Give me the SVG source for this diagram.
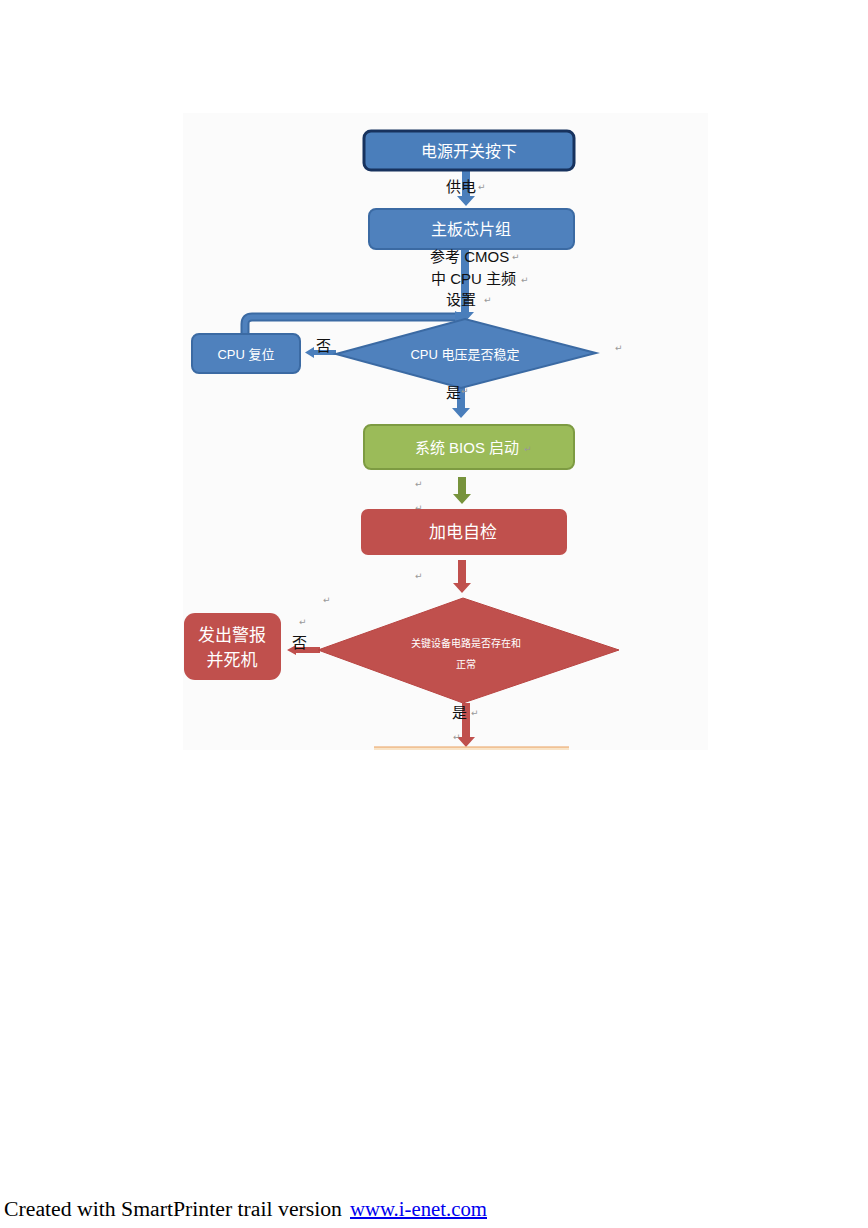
<svg xmlns="http://www.w3.org/2000/svg" width="868" height="1228" viewBox="0 0 868 1228">
<style>
.t{font-family:"Liberation Sans","Noto Sans CJK SC",sans-serif;}
.w{fill:#ffffff;text-anchor:middle;}
.k{fill:#111111;font-size:15px;}
.p{fill:#999999;font-size:9px;font-family:"DejaVu Sans",sans-serif;}
.blue{fill:#4f81bd;stroke:#3b6aa3;stroke-width:2;}
.arB{fill:#4a7ebb;}
.arG{fill:#77933c;}
.arR{fill:#c0504d;}
</style>
<rect width="868" height="1228" fill="#ffffff"/>
<rect x="183" y="113" width="525" height="637" fill="#fbfbfb"/>

<g id="connectors">
  <polygon class="arB" points="462,171 470,171 470,196 475,196 466,206 457,196 462,196"/>
  <polygon class="arB" points="461,249 469,249 469,312 474,312 465,322 456,312 461,312"/>
  <path d="M245,334 V324 Q245,317 252,317 H455" fill="none" stroke="#3b6aa3" stroke-width="9"/>
  <path d="M245,334 V324 Q245,317 252,317 H455" fill="none" stroke="#4f81bd" stroke-width="5"/>
  <polygon class="arB" points="455,311 466,317 455,323"/>
  <polygon class="arB" points="336,350 314,350 314,347 305,352.5 314,358 314,355 336,355"/>
  <polygon class="arB" points="457,388 465,388 465,408 470,408 461,418 452,408 457,408"/>
  <polygon class="arG" points="458,477 466,477 466,494 471,494 462,504 453,494 458,494"/>
  <polygon class="arR" points="458,560 466,560 466,583 471,583 462,593 453,583 458,583"/>
  <polygon class="arR" points="320,647 296,647 296,645 287,650 296,655 296,653 320,653"/>
  <polygon class="arR" points="462,703 470,703 470,737 475,737 466,747 457,737 462,737"/>
</g>

<g id="n1">
  <rect x="364" y="131" width="210" height="39" rx="7" fill="#4a7ebb" stroke="#17325e" stroke-width="3"/>
  <text class="t w" x="469" y="157" font-size="16">电源开关按下</text>
</g>
<g id="lbl-power">
  <text class="t k" x="446" y="192">供电</text>
  <text class="p" x="478" y="190">↵</text>
</g>
<g id="n2">
  <rect x="369" y="209" width="205" height="40" rx="7" class="blue"/>
  <text class="t w" x="471" y="235" font-size="16">主板芯片组</text>
</g>
<g id="lbl-cmos">
  <text class="t k" x="430" y="262">参考 CMOS</text>
  <text class="p" x="512" y="260">↵</text>
  <text class="t k" x="431" y="284">中 CPU 主频</text>
  <text class="p" x="521" y="283">↵</text>
  <text class="t k" x="446" y="305">设置</text>
  <text class="p" x="484" y="303">↵</text>
</g>
<g id="n-reset">
  <rect x="192" y="334" width="108" height="39" rx="7" class="blue"/>
  <text class="t w" x="246" y="359" font-size="13">CPU 复位</text>
</g>
<g id="d1">
  <polygon points="336,354 465,319 596,353 461,388" fill="#4f81bd" stroke="#3b6aa3" stroke-width="2"/>
  <text class="t w" x="465" y="359" font-size="13">CPU 电压是否稳定</text>
</g>
<g id="lbl-d1">
  <text class="t k" x="316" y="351">否</text>
  <text class="p" x="615" y="351">↵</text>
  <text class="t k" x="446" y="398">是</text>
  <text class="p" x="461" y="394">↵</text>
</g>
<g id="n-bios">
  <rect x="364" y="425" width="210" height="44" rx="7" fill="#9bbb59" stroke="#7d9b42" stroke-width="2"/>
  <text class="t w" x="467" y="453" font-size="15">系统 BIOS 启动</text>
  <text class="p" x="524" y="452">↵</text>
</g>
<g id="marks">
  <text class="p" x="415" y="487">↵</text>
  <text class="p" x="415" y="511">↵</text>
  <text class="p" x="415" y="579">↵</text>
  <text class="p" x="323" y="603">↵</text>
  <text class="p" x="299" y="625">↵</text>
</g>
<g id="n-post">
  <rect x="361" y="509" width="206" height="46" rx="7" fill="#c0504d"/>
  <text class="t w" x="463" y="538" font-size="17">加电自检</text>
</g>
<g id="d2">
  <polygon points="318,650 463,598 619,650 463,703" fill="#c0504d" stroke="#b84542" stroke-width="1"/>
  <text class="t w" x="466" y="647" font-size="10">关键设备电路是否存在和</text>
  <text class="t w" x="466" y="668" font-size="10">正常</text>
</g>
<g id="n-alarm">
  <rect x="184" y="613" width="97" height="67" rx="11" fill="#c0504d"/>
  <text class="t w" x="232" y="641" font-size="17">发出警报</text>
  <text class="t w" x="232" y="666" font-size="17">并死机</text>
</g>
<g id="lbl-d2">
  <text class="t k" x="292" y="648">否</text>
  <text class="t k" x="452" y="718">是</text>
  <text class="p" x="471" y="716">↵</text>
  <text class="p" x="453" y="740">↵</text>
</g>
<g id="n-next">
  <rect x="374" y="747" width="195" height="3" fill="#f9e4c8"/>
  <line x1="374" y1="747" x2="569" y2="747" stroke="#e9a060" stroke-width="1"/>
</g>
<g id="footer">
  <text x="4" y="1216" font-family="Liberation Serif,serif" font-size="20" fill="#000" textLength="338" lengthAdjust="spacingAndGlyphs">Created with SmartPrinter trail version</text>
  <text x="350" y="1216" font-family="Liberation Serif,serif" font-size="20" fill="#0000ee" text-decoration="underline" textLength="137" lengthAdjust="spacingAndGlyphs">www.i-enet.com</text>
</g>
</svg>
